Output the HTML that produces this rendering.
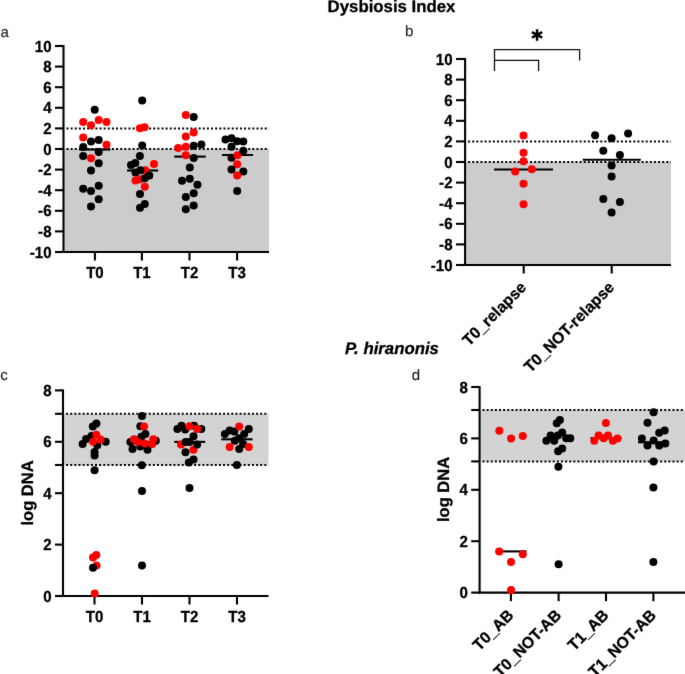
<!DOCTYPE html>
<html><head><meta charset="utf-8"><style>
html,body{margin:0;padding:0;background:#fff;}
body{width:685px;height:674px;overflow:hidden;}
svg{display:block;font-family:"Liberation Sans",sans-serif;text-rendering:geometricPrecision;}
</style></head><body>
<svg width="685" height="674" viewBox="0 0 685 674">
<defs><filter id="soft" x="0" y="0" width="685" height="674" filterUnits="userSpaceOnUse" color-interpolation-filters="sRGB"><feConvolveMatrix order="3" kernelMatrix="0.00490 0.06020 0.00490 0.06020 0.73960 0.06020 0.00490 0.06020 0.00490" edgeMode="duplicate" preserveAlpha="true"/></filter></defs>
<g filter="url(#soft)">
<rect width="685" height="674" fill="#fff"/>
<rect x="64.5" y="149.0" width="204.5" height="103.0" fill="#cccccc"/>
<line x1="64.5" y1="128.4" x2="269" y2="128.4" stroke="#000" stroke-width="2" stroke-dasharray="2 2.13" stroke-dashoffset="-2.0"/>
<line x1="64.5" y1="149.0" x2="269" y2="149.0" stroke="#000" stroke-width="2" stroke-dasharray="2 2.13" stroke-dashoffset="-2.0"/>
<line x1="63.5" y1="45.0" x2="63.5" y2="253.0" stroke="#000" stroke-width="2.1" />
<line x1="62.5" y1="252.0" x2="269" y2="252.0" stroke="#000" stroke-width="2.1" />
<line x1="55" y1="252.0" x2="63.5" y2="252.0" stroke="#000" stroke-width="2.1" />
<text transform="translate(51.5 257.5) scale(0.94 1)" font-size="16" font-weight="bold" font-style="normal" text-anchor="end" fill="#000" stroke="#000" stroke-width="0.3" stroke-linejoin="round">-10</text>
<line x1="55" y1="231.4" x2="63.5" y2="231.4" stroke="#000" stroke-width="2.1" />
<text transform="translate(51.5 236.9) scale(0.94 1)" font-size="16" font-weight="bold" font-style="normal" text-anchor="end" fill="#000" stroke="#000" stroke-width="0.3" stroke-linejoin="round">-8</text>
<line x1="55" y1="210.8" x2="63.5" y2="210.8" stroke="#000" stroke-width="2.1" />
<text transform="translate(51.5 216.3) scale(0.94 1)" font-size="16" font-weight="bold" font-style="normal" text-anchor="end" fill="#000" stroke="#000" stroke-width="0.3" stroke-linejoin="round">-6</text>
<line x1="55" y1="190.2" x2="63.5" y2="190.2" stroke="#000" stroke-width="2.1" />
<text transform="translate(51.5 195.7) scale(0.94 1)" font-size="16" font-weight="bold" font-style="normal" text-anchor="end" fill="#000" stroke="#000" stroke-width="0.3" stroke-linejoin="round">-4</text>
<line x1="55" y1="169.6" x2="63.5" y2="169.6" stroke="#000" stroke-width="2.1" />
<text transform="translate(51.5 175.1) scale(0.94 1)" font-size="16" font-weight="bold" font-style="normal" text-anchor="end" fill="#000" stroke="#000" stroke-width="0.3" stroke-linejoin="round">-2</text>
<line x1="55" y1="149.0" x2="63.5" y2="149.0" stroke="#000" stroke-width="2.1" />
<text transform="translate(51.5 154.5) scale(0.94 1)" font-size="16" font-weight="bold" font-style="normal" text-anchor="end" fill="#000" stroke="#000" stroke-width="0.3" stroke-linejoin="round">0</text>
<line x1="55" y1="128.4" x2="63.5" y2="128.4" stroke="#000" stroke-width="2.1" />
<text transform="translate(51.5 133.9) scale(0.94 1)" font-size="16" font-weight="bold" font-style="normal" text-anchor="end" fill="#000" stroke="#000" stroke-width="0.3" stroke-linejoin="round">2</text>
<line x1="55" y1="107.8" x2="63.5" y2="107.8" stroke="#000" stroke-width="2.1" />
<text transform="translate(51.5 113.3) scale(0.94 1)" font-size="16" font-weight="bold" font-style="normal" text-anchor="end" fill="#000" stroke="#000" stroke-width="0.3" stroke-linejoin="round">4</text>
<line x1="55" y1="87.19999999999999" x2="63.5" y2="87.19999999999999" stroke="#000" stroke-width="2.1" />
<text transform="translate(51.5 92.69999999999999) scale(0.94 1)" font-size="16" font-weight="bold" font-style="normal" text-anchor="end" fill="#000" stroke="#000" stroke-width="0.3" stroke-linejoin="round">6</text>
<line x1="55" y1="66.6" x2="63.5" y2="66.6" stroke="#000" stroke-width="2.1" />
<text transform="translate(51.5 72.1) scale(0.94 1)" font-size="16" font-weight="bold" font-style="normal" text-anchor="end" fill="#000" stroke="#000" stroke-width="0.3" stroke-linejoin="round">8</text>
<line x1="55" y1="46.0" x2="63.5" y2="46.0" stroke="#000" stroke-width="2.1" />
<text transform="translate(51.5 51.5) scale(0.94 1)" font-size="16" font-weight="bold" font-style="normal" text-anchor="end" fill="#000" stroke="#000" stroke-width="0.3" stroke-linejoin="round">10</text>
<line x1="94.9" y1="252.0" x2="94.9" y2="260.5" stroke="#000" stroke-width="2.1" />
<text transform="translate(94.9 277.6) scale(0.94 1)" font-size="16" font-weight="bold" font-style="normal" text-anchor="middle" fill="#000" stroke="#000" stroke-width="0.3" stroke-linejoin="round">T0</text>
<line x1="141.9" y1="252.0" x2="141.9" y2="260.5" stroke="#000" stroke-width="2.1" />
<text transform="translate(141.9 277.6) scale(0.94 1)" font-size="16" font-weight="bold" font-style="normal" text-anchor="middle" fill="#000" stroke="#000" stroke-width="0.3" stroke-linejoin="round">T1</text>
<line x1="189.5" y1="252.0" x2="189.5" y2="260.5" stroke="#000" stroke-width="2.1" />
<text transform="translate(189.5 277.6) scale(0.94 1)" font-size="16" font-weight="bold" font-style="normal" text-anchor="middle" fill="#000" stroke="#000" stroke-width="0.3" stroke-linejoin="round">T2</text>
<line x1="237.1" y1="252.0" x2="237.1" y2="260.5" stroke="#000" stroke-width="2.1" />
<text transform="translate(237.1 277.6) scale(0.94 1)" font-size="16" font-weight="bold" font-style="normal" text-anchor="middle" fill="#000" stroke="#000" stroke-width="0.3" stroke-linejoin="round">T3</text>
<line x1="79.3" y1="149.5" x2="110.5" y2="149.5" stroke="#000" stroke-width="2.1" />
<line x1="127" y1="170.5" x2="158.2" y2="170.5" stroke="#000" stroke-width="2.1" />
<line x1="174.2" y1="156.6" x2="205.8" y2="156.6" stroke="#000" stroke-width="2.1" />
<line x1="221.9" y1="155" x2="253.1" y2="155" stroke="#000" stroke-width="2.1" />
<circle cx="94.7" cy="109.7" r="4.0" fill="#000000"/>
<circle cx="83.2" cy="122" r="4.0" fill="#ff0000"/>
<circle cx="91" cy="125.3" r="4.0" fill="#ff0000"/>
<circle cx="98.7" cy="119.9" r="4.0" fill="#ff0000"/>
<circle cx="106.5" cy="122" r="4.0" fill="#ff0000"/>
<circle cx="83.2" cy="137.5" r="4.0" fill="#ff0000"/>
<circle cx="91" cy="141.5" r="4.0" fill="#000000"/>
<circle cx="98.7" cy="140" r="4.0" fill="#000000"/>
<circle cx="106.5" cy="144.8" r="4.0" fill="#ff0000"/>
<circle cx="83.2" cy="147" r="4.0" fill="#000000"/>
<circle cx="98.7" cy="152" r="4.0" fill="#000000"/>
<circle cx="83.2" cy="156" r="4.0" fill="#000000"/>
<circle cx="91" cy="158.2" r="4.0" fill="#ff0000"/>
<circle cx="98.7" cy="163.3" r="4.0" fill="#000000"/>
<circle cx="91" cy="170.4" r="4.0" fill="#000000"/>
<circle cx="98.7" cy="185.8" r="4.0" fill="#000000"/>
<circle cx="83.2" cy="188.8" r="4.0" fill="#000000"/>
<circle cx="91" cy="190.9" r="4.0" fill="#000000"/>
<circle cx="98.7" cy="199.3" r="4.0" fill="#000000"/>
<circle cx="91" cy="206.5" r="4.0" fill="#000000"/>
<circle cx="142.2" cy="100.5" r="4.0" fill="#000000"/>
<circle cx="139.9" cy="128.3" r="4.0" fill="#ff0000"/>
<circle cx="144.6" cy="127.2" r="4.0" fill="#ff0000"/>
<circle cx="142.2" cy="145.6" r="4.0" fill="#000000"/>
<circle cx="139.9" cy="156" r="4.0" fill="#000000"/>
<circle cx="131" cy="164.9" r="4.0" fill="#000000"/>
<circle cx="135.3" cy="163" r="4.0" fill="#000000"/>
<circle cx="154" cy="164" r="4.0" fill="#ff0000"/>
<circle cx="145.3" cy="170.3" r="4.0" fill="#ff0000"/>
<circle cx="140.4" cy="170.3" r="4.0" fill="#000000"/>
<circle cx="135.5" cy="172.5" r="4.0" fill="#000000"/>
<circle cx="135.5" cy="180.5" r="4.0" fill="#ff0000"/>
<circle cx="140" cy="179.2" r="4.0" fill="#ff0000"/>
<circle cx="149.3" cy="175.6" r="4.0" fill="#000000"/>
<circle cx="144.8" cy="178.3" r="4.0" fill="#000000"/>
<circle cx="144.8" cy="186.7" r="4.0" fill="#ff0000"/>
<circle cx="140" cy="193.9" r="4.0" fill="#000000"/>
<circle cx="144.8" cy="204.1" r="4.0" fill="#000000"/>
<circle cx="140" cy="207.7" r="4.0" fill="#000000"/>
<circle cx="185.8" cy="115" r="4.0" fill="#ff0000"/>
<circle cx="193.7" cy="116.9" r="4.0" fill="#000000"/>
<circle cx="193.7" cy="132.5" r="4.0" fill="#ff0000"/>
<circle cx="185.8" cy="136.5" r="4.0" fill="#ff0000"/>
<circle cx="178.1" cy="147.9" r="4.0" fill="#ff0000"/>
<circle cx="185.8" cy="146.7" r="4.0" fill="#ff0000"/>
<circle cx="193.7" cy="145.8" r="4.0" fill="#000000"/>
<circle cx="201.4" cy="144.5" r="4.0" fill="#000000"/>
<circle cx="185.8" cy="155.2" r="4.0" fill="#ff0000"/>
<circle cx="193.7" cy="158" r="4.0" fill="#000000"/>
<circle cx="189.8" cy="167.6" r="4.0" fill="#000000"/>
<circle cx="182" cy="180.7" r="4.0" fill="#000000"/>
<circle cx="189.8" cy="178.7" r="4.0" fill="#000000"/>
<circle cx="197.4" cy="184.7" r="4.0" fill="#000000"/>
<circle cx="193.7" cy="193.2" r="4.0" fill="#000000"/>
<circle cx="185.8" cy="197" r="4.0" fill="#000000"/>
<circle cx="193.7" cy="205.4" r="4.0" fill="#000000"/>
<circle cx="185.8" cy="209.3" r="4.0" fill="#000000"/>
<circle cx="225.5" cy="139.6" r="4.0" fill="#000000"/>
<circle cx="231.5" cy="138.2" r="4.0" fill="#000000"/>
<circle cx="237.2" cy="141.2" r="4.0" fill="#000000"/>
<circle cx="243.3" cy="141.4" r="4.0" fill="#000000"/>
<circle cx="231.5" cy="146.7" r="4.0" fill="#000000"/>
<circle cx="231.5" cy="157.8" r="4.0" fill="#000000"/>
<circle cx="237.5" cy="155.2" r="4.0" fill="#ff0000"/>
<circle cx="243.3" cy="150.7" r="4.0" fill="#000000"/>
<circle cx="237.2" cy="164.2" r="4.0" fill="#ff0000"/>
<circle cx="231.5" cy="169.4" r="4.0" fill="#000000"/>
<circle cx="243.3" cy="171.5" r="4.0" fill="#000000"/>
<circle cx="237.2" cy="175.6" r="4.0" fill="#ff0000"/>
<circle cx="237.2" cy="191" r="4.0" fill="#000000"/>
<rect x="466.1" y="162.0" width="204.89999999999998" height="103.0" fill="#cccccc"/>
<line x1="466.1" y1="141.4" x2="671" y2="141.4" stroke="#000" stroke-width="2" stroke-dasharray="2 2.13" stroke-dashoffset="-2.0"/>
<line x1="466.1" y1="162.0" x2="671" y2="162.0" stroke="#000" stroke-width="2" stroke-dasharray="2 2.13" stroke-dashoffset="-2.0"/>
<line x1="465.1" y1="58.0" x2="465.1" y2="266.0" stroke="#000" stroke-width="2.1" />
<line x1="464.1" y1="265.0" x2="671" y2="265.0" stroke="#000" stroke-width="2.1" />
<line x1="456" y1="265.0" x2="465.1" y2="265.0" stroke="#000" stroke-width="2.1" />
<text transform="translate(452.5 270.5) scale(0.94 1)" font-size="16" font-weight="bold" font-style="normal" text-anchor="end" fill="#000" stroke="#000" stroke-width="0.3" stroke-linejoin="round">-10</text>
<line x1="456" y1="244.4" x2="465.1" y2="244.4" stroke="#000" stroke-width="2.1" />
<text transform="translate(452.5 249.9) scale(0.94 1)" font-size="16" font-weight="bold" font-style="normal" text-anchor="end" fill="#000" stroke="#000" stroke-width="0.3" stroke-linejoin="round">-8</text>
<line x1="456" y1="223.8" x2="465.1" y2="223.8" stroke="#000" stroke-width="2.1" />
<text transform="translate(452.5 229.3) scale(0.94 1)" font-size="16" font-weight="bold" font-style="normal" text-anchor="end" fill="#000" stroke="#000" stroke-width="0.3" stroke-linejoin="round">-6</text>
<line x1="456" y1="203.2" x2="465.1" y2="203.2" stroke="#000" stroke-width="2.1" />
<text transform="translate(452.5 208.7) scale(0.94 1)" font-size="16" font-weight="bold" font-style="normal" text-anchor="end" fill="#000" stroke="#000" stroke-width="0.3" stroke-linejoin="round">-4</text>
<line x1="456" y1="182.6" x2="465.1" y2="182.6" stroke="#000" stroke-width="2.1" />
<text transform="translate(452.5 188.1) scale(0.94 1)" font-size="16" font-weight="bold" font-style="normal" text-anchor="end" fill="#000" stroke="#000" stroke-width="0.3" stroke-linejoin="round">-2</text>
<line x1="456" y1="162.0" x2="465.1" y2="162.0" stroke="#000" stroke-width="2.1" />
<text transform="translate(452.5 167.5) scale(0.94 1)" font-size="16" font-weight="bold" font-style="normal" text-anchor="end" fill="#000" stroke="#000" stroke-width="0.3" stroke-linejoin="round">0</text>
<line x1="456" y1="141.4" x2="465.1" y2="141.4" stroke="#000" stroke-width="2.1" />
<text transform="translate(452.5 146.9) scale(0.94 1)" font-size="16" font-weight="bold" font-style="normal" text-anchor="end" fill="#000" stroke="#000" stroke-width="0.3" stroke-linejoin="round">2</text>
<line x1="456" y1="120.8" x2="465.1" y2="120.8" stroke="#000" stroke-width="2.1" />
<text transform="translate(452.5 126.3) scale(0.94 1)" font-size="16" font-weight="bold" font-style="normal" text-anchor="end" fill="#000" stroke="#000" stroke-width="0.3" stroke-linejoin="round">4</text>
<line x1="456" y1="100.19999999999999" x2="465.1" y2="100.19999999999999" stroke="#000" stroke-width="2.1" />
<text transform="translate(452.5 105.69999999999999) scale(0.94 1)" font-size="16" font-weight="bold" font-style="normal" text-anchor="end" fill="#000" stroke="#000" stroke-width="0.3" stroke-linejoin="round">6</text>
<line x1="456" y1="79.6" x2="465.1" y2="79.6" stroke="#000" stroke-width="2.1" />
<text transform="translate(452.5 85.1) scale(0.94 1)" font-size="16" font-weight="bold" font-style="normal" text-anchor="end" fill="#000" stroke="#000" stroke-width="0.3" stroke-linejoin="round">8</text>
<line x1="456" y1="59.0" x2="465.1" y2="59.0" stroke="#000" stroke-width="2.1" />
<text transform="translate(452.5 64.5) scale(0.94 1)" font-size="16" font-weight="bold" font-style="normal" text-anchor="end" fill="#000" stroke="#000" stroke-width="0.3" stroke-linejoin="round">10</text>
<line x1="523.7" y1="265.0" x2="523.7" y2="273.5" stroke="#000" stroke-width="2.1" />
<text transform="translate(527.3000000000001 288.4) rotate(-45) scale(0.985 1)" font-size="16" font-weight="bold" font-style="normal" text-anchor="end" fill="#000" stroke="#000" stroke-width="0.3" stroke-linejoin="round">T0_relapse</text>
<line x1="611.7" y1="265.0" x2="611.7" y2="273.5" stroke="#000" stroke-width="2.1" />
<text transform="translate(615.3000000000001 288.4) rotate(-45) scale(0.985 1)" font-size="16" font-weight="bold" font-style="normal" text-anchor="end" fill="#000" stroke="#000" stroke-width="0.3" stroke-linejoin="round">T0_NOT-relapse</text>
<line x1="494" y1="169.5" x2="553" y2="169.5" stroke="#000" stroke-width="2.1" />
<line x1="582.7" y1="159.7" x2="640.8" y2="159.7" stroke="#000" stroke-width="2.1" />
<circle cx="523.5" cy="135.4" r="4.0" fill="#ff0000"/>
<circle cx="523.5" cy="152.8" r="4.0" fill="#ff0000"/>
<circle cx="523.5" cy="161.3" r="4.0" fill="#ff0000"/>
<circle cx="515.2" cy="171.5" r="4.0" fill="#ff0000"/>
<circle cx="531.8" cy="169.2" r="4.0" fill="#ff0000"/>
<circle cx="523.5" cy="183.8" r="4.0" fill="#ff0000"/>
<circle cx="523.5" cy="204.3" r="4.0" fill="#ff0000"/>
<circle cx="595.1" cy="135.3" r="4.0" fill="#000000"/>
<circle cx="611.6" cy="138.2" r="4.0" fill="#000000"/>
<circle cx="628.1" cy="133.4" r="4.0" fill="#000000"/>
<circle cx="603.3" cy="150.7" r="4.0" fill="#000000"/>
<circle cx="619.9" cy="154.9" r="4.0" fill="#000000"/>
<circle cx="611.6" cy="165.4" r="4.0" fill="#000000"/>
<circle cx="611.6" cy="176.4" r="4.0" fill="#000000"/>
<circle cx="603.3" cy="199" r="4.0" fill="#000000"/>
<circle cx="619.9" cy="202" r="4.0" fill="#000000"/>
<circle cx="611.6" cy="212.5" r="4.0" fill="#000000"/>
<path d="M494.5 71 V49.7 H579.6 V60.5 M494.5 60.3 H538.6 V71" fill="none" stroke="#111" stroke-width="1.3"/>
<path d="M537.05 29.2 V40.7 M531.9 32.2 L542.2 37.7 M531.9 37.7 L542.2 32.2" stroke="#000" stroke-width="2.5" fill="none"/>
<rect x="64.0" y="413.8" width="204.5" height="51.19999999999999" fill="#d3d3d3"/>
<line x1="64.0" y1="413.8" x2="268.5" y2="413.8" stroke="#000" stroke-width="2" stroke-dasharray="2 2.13" stroke-dashoffset="-2.1"/>
<line x1="64.0" y1="465" x2="268.5" y2="465" stroke="#000" stroke-width="2" stroke-dasharray="2 2.13" stroke-dashoffset="-2.1"/>
<line x1="63.0" y1="389.4" x2="63.0" y2="597.0" stroke="#000" stroke-width="2.1" />
<line x1="62.0" y1="596.0" x2="268.5" y2="596.0" stroke="#000" stroke-width="2.1" />
<line x1="55" y1="390.4" x2="63.0" y2="390.4" stroke="#000" stroke-width="2.1" />
<text transform="translate(51.5 395.9) scale(0.94 1)" font-size="16" font-weight="bold" font-style="normal" text-anchor="end" fill="#000" stroke="#000" stroke-width="0.3" stroke-linejoin="round">8</text>
<line x1="55" y1="441.8" x2="63.0" y2="441.8" stroke="#000" stroke-width="2.1" />
<text transform="translate(51.5 447.3) scale(0.94 1)" font-size="16" font-weight="bold" font-style="normal" text-anchor="end" fill="#000" stroke="#000" stroke-width="0.3" stroke-linejoin="round">6</text>
<line x1="55" y1="493.2" x2="63.0" y2="493.2" stroke="#000" stroke-width="2.1" />
<text transform="translate(51.5 498.7) scale(0.94 1)" font-size="16" font-weight="bold" font-style="normal" text-anchor="end" fill="#000" stroke="#000" stroke-width="0.3" stroke-linejoin="round">4</text>
<line x1="55" y1="544.6" x2="63.0" y2="544.6" stroke="#000" stroke-width="2.1" />
<text transform="translate(51.5 550.1) scale(0.94 1)" font-size="16" font-weight="bold" font-style="normal" text-anchor="end" fill="#000" stroke="#000" stroke-width="0.3" stroke-linejoin="round">2</text>
<line x1="55" y1="596.0" x2="63.0" y2="596.0" stroke="#000" stroke-width="2.1" />
<text transform="translate(51.5 601.5) scale(0.94 1)" font-size="16" font-weight="bold" font-style="normal" text-anchor="end" fill="#000" stroke="#000" stroke-width="0.3" stroke-linejoin="round">0</text>
<line x1="55" y1="413.8" x2="63.0" y2="413.8" stroke="#000" stroke-width="2.1" />
<line x1="55" y1="465" x2="63.0" y2="465" stroke="#000" stroke-width="2.1" />
<line x1="94.5" y1="596.0" x2="94.5" y2="604.5" stroke="#000" stroke-width="2.1" />
<text transform="translate(94.5 622.3) scale(0.94 1)" font-size="16" font-weight="bold" font-style="normal" text-anchor="middle" fill="#000" stroke="#000" stroke-width="0.3" stroke-linejoin="round">T0</text>
<line x1="142" y1="596.0" x2="142" y2="604.5" stroke="#000" stroke-width="2.1" />
<text transform="translate(142 622.3) scale(0.94 1)" font-size="16" font-weight="bold" font-style="normal" text-anchor="middle" fill="#000" stroke="#000" stroke-width="0.3" stroke-linejoin="round">T1</text>
<line x1="189.5" y1="596.0" x2="189.5" y2="604.5" stroke="#000" stroke-width="2.1" />
<text transform="translate(189.5 622.3) scale(0.94 1)" font-size="16" font-weight="bold" font-style="normal" text-anchor="middle" fill="#000" stroke="#000" stroke-width="0.3" stroke-linejoin="round">T2</text>
<line x1="237" y1="596.0" x2="237" y2="604.5" stroke="#000" stroke-width="2.1" />
<text transform="translate(237 622.3) scale(0.94 1)" font-size="16" font-weight="bold" font-style="normal" text-anchor="middle" fill="#000" stroke="#000" stroke-width="0.3" stroke-linejoin="round">T3</text>
<text transform="translate(32.7 493) rotate(-90)" font-size="16.5" font-weight="bold" font-style="normal" text-anchor="middle" fill="#000" stroke="#000" stroke-width="0.3" stroke-linejoin="round">log DNA</text>
<line x1="127" y1="442" x2="158" y2="442" stroke="#000" stroke-width="2.1" />
<line x1="174.3" y1="441.9" x2="205.2" y2="441.9" stroke="#000" stroke-width="2.1" />
<line x1="221.3" y1="439.3" x2="252.5" y2="439.3" stroke="#000" stroke-width="2.1" />
<circle cx="96.4" cy="423.5" r="4.0" fill="#000000"/>
<circle cx="92.8" cy="426.6" r="4.0" fill="#000000"/>
<circle cx="91.5" cy="435.9" r="4.0" fill="#000000"/>
<circle cx="86.1" cy="439" r="4.0" fill="#000000"/>
<circle cx="82.6" cy="443.9" r="4.0" fill="#000000"/>
<circle cx="105.7" cy="441.7" r="4.0" fill="#000000"/>
<circle cx="97.3" cy="445.3" r="4.0" fill="#000000"/>
<circle cx="94.6" cy="452" r="4.0" fill="#000000"/>
<circle cx="94.6" cy="455.5" r="4.0" fill="#000000"/>
<circle cx="94.6" cy="470.2" r="4.0" fill="#000000"/>
<circle cx="96.3" cy="434.7" r="4.0" fill="#ff0000"/>
<circle cx="100.5" cy="439.6" r="4.0" fill="#ff0000"/>
<circle cx="93.0" cy="441.8" r="4.0" fill="#ff0000"/>
<circle cx="96.3" cy="555" r="4.0" fill="#ff0000"/>
<circle cx="93" cy="557.4" r="4.0" fill="#ff0000"/>
<circle cx="96.5" cy="565.6" r="4.0" fill="#ff0000"/>
<circle cx="93" cy="567.8" r="4.0" fill="#000000"/>
<circle cx="94.7" cy="593.5" r="4.0" fill="#ff0000"/>
<circle cx="142" cy="415.9" r="4.0" fill="#000000"/>
<circle cx="140.3" cy="426.3" r="4.0" fill="#000000"/>
<circle cx="144.1" cy="426.6" r="4.0" fill="#ff0000"/>
<circle cx="145.4" cy="434.1" r="4.0" fill="#000000"/>
<circle cx="141.3" cy="436.7" r="4.0" fill="#000000"/>
<circle cx="130.4" cy="441.9" r="4.0" fill="#000000"/>
<circle cx="155.8" cy="440.8" r="4.0" fill="#000000"/>
<circle cx="132.5" cy="449.1" r="4.0" fill="#000000"/>
<circle cx="140.3" cy="446.5" r="4.0" fill="#000000"/>
<circle cx="147.5" cy="449.7" r="4.0" fill="#000000"/>
<circle cx="134" cy="439.3" r="4.0" fill="#ff0000"/>
<circle cx="137.7" cy="441.9" r="4.0" fill="#ff0000"/>
<circle cx="144.9" cy="443.4" r="4.0" fill="#ff0000"/>
<circle cx="153.2" cy="439.3" r="4.0" fill="#ff0000"/>
<circle cx="152.2" cy="444" r="4.0" fill="#ff0000"/>
<circle cx="141.8" cy="465.2" r="4.0" fill="#000000"/>
<circle cx="142" cy="490.9" r="4.0" fill="#000000"/>
<circle cx="142" cy="565.5" r="4.0" fill="#000000"/>
<circle cx="177.4" cy="428.9" r="4.0" fill="#000000"/>
<circle cx="181.5" cy="425.8" r="4.0" fill="#000000"/>
<circle cx="185.2" cy="429.4" r="4.0" fill="#000000"/>
<circle cx="194" cy="425.8" r="4.0" fill="#000000"/>
<circle cx="201.3" cy="428.9" r="4.0" fill="#000000"/>
<circle cx="189.3" cy="426.3" r="4.0" fill="#ff0000"/>
<circle cx="197.1" cy="428.9" r="4.0" fill="#ff0000"/>
<circle cx="193.5" cy="436.2" r="4.0" fill="#000000"/>
<circle cx="181" cy="444.5" r="4.0" fill="#ff0000"/>
<circle cx="193.5" cy="449.7" r="4.0" fill="#ff0000"/>
<circle cx="185.7" cy="441.9" r="4.0" fill="#000000"/>
<circle cx="189.3" cy="441.9" r="4.0" fill="#000000"/>
<circle cx="197.1" cy="444.5" r="4.0" fill="#000000"/>
<circle cx="185.5" cy="452.3" r="4.0" fill="#000000"/>
<circle cx="193.5" cy="459.5" r="4.0" fill="#000000"/>
<circle cx="188.8" cy="462.6" r="4.0" fill="#000000"/>
<circle cx="189.5" cy="488" r="4.0" fill="#000000"/>
<circle cx="224.9" cy="434.1" r="4.0" fill="#000000"/>
<circle cx="229.6" cy="430.4" r="4.0" fill="#000000"/>
<circle cx="234.3" cy="431.5" r="4.0" fill="#000000"/>
<circle cx="248.8" cy="428.9" r="4.0" fill="#000000"/>
<circle cx="244.2" cy="434.1" r="4.0" fill="#000000"/>
<circle cx="239" cy="438.2" r="4.0" fill="#000000"/>
<circle cx="234.8" cy="440.8" r="4.0" fill="#000000"/>
<circle cx="243.1" cy="443.9" r="4.0" fill="#000000"/>
<circle cx="239.2" cy="426.6" r="4.0" fill="#ff0000"/>
<circle cx="229.6" cy="447.1" r="4.0" fill="#ff0000"/>
<circle cx="248.8" cy="447.1" r="4.0" fill="#ff0000"/>
<circle cx="239.2" cy="449.1" r="4.0" fill="#000000"/>
<circle cx="236.9" cy="465" r="4.0" fill="#000000"/>
<rect x="480.6" y="410" width="204.39999999999998" height="51.39999999999998" fill="#d3d3d3"/>
<line x1="480.6" y1="410" x2="685" y2="410" stroke="#000" stroke-width="2" stroke-dasharray="2 2.13" stroke-dashoffset="-1.9"/>
<line x1="480.6" y1="461.4" x2="685" y2="461.4" stroke="#000" stroke-width="2" stroke-dasharray="2 2.13" stroke-dashoffset="-1.9"/>
<line x1="479.6" y1="386.0" x2="479.6" y2="593.6" stroke="#000" stroke-width="2.1" />
<line x1="478.6" y1="592.6" x2="685" y2="592.6" stroke="#000" stroke-width="2.1" />
<line x1="471.2" y1="387.0" x2="479.6" y2="387.0" stroke="#000" stroke-width="2.1" />
<text transform="translate(467.8 392.5) scale(0.94 1)" font-size="16" font-weight="bold" font-style="normal" text-anchor="end" fill="#000" stroke="#000" stroke-width="0.3" stroke-linejoin="round">8</text>
<line x1="471.2" y1="438.40000000000003" x2="479.6" y2="438.40000000000003" stroke="#000" stroke-width="2.1" />
<text transform="translate(467.8 443.90000000000003) scale(0.94 1)" font-size="16" font-weight="bold" font-style="normal" text-anchor="end" fill="#000" stroke="#000" stroke-width="0.3" stroke-linejoin="round">6</text>
<line x1="471.2" y1="489.8" x2="479.6" y2="489.8" stroke="#000" stroke-width="2.1" />
<text transform="translate(467.8 495.3) scale(0.94 1)" font-size="16" font-weight="bold" font-style="normal" text-anchor="end" fill="#000" stroke="#000" stroke-width="0.3" stroke-linejoin="round">4</text>
<line x1="471.2" y1="541.2" x2="479.6" y2="541.2" stroke="#000" stroke-width="2.1" />
<text transform="translate(467.8 546.7) scale(0.94 1)" font-size="16" font-weight="bold" font-style="normal" text-anchor="end" fill="#000" stroke="#000" stroke-width="0.3" stroke-linejoin="round">2</text>
<line x1="471.2" y1="592.6" x2="479.6" y2="592.6" stroke="#000" stroke-width="2.1" />
<text transform="translate(467.8 598.1) scale(0.94 1)" font-size="16" font-weight="bold" font-style="normal" text-anchor="end" fill="#000" stroke="#000" stroke-width="0.3" stroke-linejoin="round">0</text>
<line x1="471.2" y1="410" x2="479.6" y2="410" stroke="#000" stroke-width="2.1" />
<line x1="471.2" y1="461.4" x2="479.6" y2="461.4" stroke="#000" stroke-width="2.1" />
<line x1="510.9" y1="592.6" x2="510.9" y2="601.2" stroke="#000" stroke-width="2.1" />
<text transform="translate(514.5 616.1) rotate(-45) scale(0.985 1)" font-size="16" font-weight="bold" font-style="normal" text-anchor="end" fill="#000" stroke="#000" stroke-width="0.3" stroke-linejoin="round">T0_AB</text>
<line x1="558.6" y1="592.6" x2="558.6" y2="601.2" stroke="#000" stroke-width="2.1" />
<text transform="translate(562.2 616.1) rotate(-45) scale(0.985 1)" font-size="16" font-weight="bold" font-style="normal" text-anchor="end" fill="#000" stroke="#000" stroke-width="0.3" stroke-linejoin="round">T0_NOT-AB</text>
<line x1="606" y1="592.6" x2="606" y2="601.2" stroke="#000" stroke-width="2.1" />
<text transform="translate(609.6 616.1) rotate(-45) scale(0.985 1)" font-size="16" font-weight="bold" font-style="normal" text-anchor="end" fill="#000" stroke="#000" stroke-width="0.3" stroke-linejoin="round">T1_AB</text>
<line x1="653.4" y1="592.6" x2="653.4" y2="601.2" stroke="#000" stroke-width="2.1" />
<text transform="translate(657.0 616.1) rotate(-45) scale(0.985 1)" font-size="16" font-weight="bold" font-style="normal" text-anchor="end" fill="#000" stroke="#000" stroke-width="0.3" stroke-linejoin="round">T1_NOT-AB</text>
<text transform="translate(449 489.5) rotate(-90)" font-size="16.5" font-weight="bold" font-style="normal" text-anchor="middle" fill="#000" stroke="#000" stroke-width="0.3" stroke-linejoin="round">log DNA</text>
<line x1="495.5" y1="551.4" x2="526.5" y2="551.4" stroke="#000" stroke-width="2.1" />
<line x1="590.5" y1="438.2" x2="621.5" y2="438.2" stroke="#000" stroke-width="2.1" />
<line x1="638" y1="442.3" x2="669" y2="442.3" stroke="#000" stroke-width="2.1" />
<circle cx="499.3" cy="430.7" r="4.0" fill="#ff0000"/>
<circle cx="511.1" cy="438.5" r="4.0" fill="#ff0000"/>
<circle cx="522.8" cy="435.9" r="4.0" fill="#ff0000"/>
<circle cx="499.2" cy="551.4" r="4.0" fill="#ff0000"/>
<circle cx="522.8" cy="554.2" r="4.0" fill="#ff0000"/>
<circle cx="511" cy="562.1" r="4.0" fill="#ff0000"/>
<circle cx="511" cy="589.9" r="4.0" fill="#ff0000"/>
<circle cx="559.9" cy="420.1" r="4.0" fill="#000000"/>
<circle cx="556.8" cy="423.2" r="4.0" fill="#000000"/>
<circle cx="546.4" cy="440.8" r="4.0" fill="#000000"/>
<circle cx="550.6" cy="435.6" r="4.0" fill="#000000"/>
<circle cx="554.2" cy="440.8" r="4.0" fill="#000000"/>
<circle cx="557.8" cy="435.6" r="4.0" fill="#000000"/>
<circle cx="562.2" cy="432.5" r="4.0" fill="#000000"/>
<circle cx="566.2" cy="438.2" r="4.0" fill="#000000"/>
<circle cx="570.3" cy="438.2" r="4.0" fill="#000000"/>
<circle cx="562.2" cy="448.6" r="4.0" fill="#000000"/>
<circle cx="558.1" cy="451.2" r="4.0" fill="#000000"/>
<circle cx="558.4" cy="466.8" r="4.0" fill="#000000"/>
<circle cx="558.6" cy="564.2" r="4.0" fill="#000000"/>
<circle cx="605.9" cy="422.9" r="4.0" fill="#ff0000"/>
<circle cx="598.6" cy="435.6" r="4.0" fill="#ff0000"/>
<circle cx="608" cy="435.6" r="4.0" fill="#ff0000"/>
<circle cx="594.3" cy="440.8" r="4.0" fill="#ff0000"/>
<circle cx="603.6" cy="438.2" r="4.0" fill="#ff0000"/>
<circle cx="612.9" cy="440.8" r="4.0" fill="#ff0000"/>
<circle cx="617.5" cy="438.4" r="4.0" fill="#ff0000"/>
<circle cx="653.6" cy="412.2" r="4.0" fill="#000000"/>
<circle cx="647.5" cy="422.8" r="4.0" fill="#000000"/>
<circle cx="664.7" cy="430.6" r="4.0" fill="#000000"/>
<circle cx="659.2" cy="432.8" r="4.0" fill="#000000"/>
<circle cx="641.9" cy="438.4" r="4.0" fill="#000000"/>
<circle cx="653.6" cy="440.6" r="4.0" fill="#000000"/>
<circle cx="647.5" cy="445.6" r="4.0" fill="#000000"/>
<circle cx="659.2" cy="445.6" r="4.0" fill="#000000"/>
<circle cx="665.3" cy="443.4" r="4.0" fill="#000000"/>
<circle cx="653.6" cy="461.4" r="4.0" fill="#000000"/>
<circle cx="653.4" cy="487.4" r="4.0" fill="#000000"/>
<circle cx="653.4" cy="562" r="4.0" fill="#000000"/>
<text transform="translate(391.5 11.8)" font-size="16.8" font-weight="bold" font-style="normal" text-anchor="middle" fill="#000" stroke="#000" stroke-width="0.3" stroke-linejoin="round">Dysbiosis Index</text>
<text transform="translate(392 354)" font-size="16.8" font-weight="bold" font-style="italic" text-anchor="middle" fill="#000" stroke="#000" stroke-width="0.3" stroke-linejoin="round">P. hiranonis</text>
<text transform="translate(0.4 36.9)" font-size="15" font-weight="normal" font-style="normal" text-anchor="start" fill="#222" stroke="#222" stroke-width="0.15" stroke-linejoin="round">a</text>
<text transform="translate(405 36)" font-size="15" font-weight="normal" font-style="normal" text-anchor="start" fill="#222" stroke="#222" stroke-width="0.15" stroke-linejoin="round">b</text>
<text transform="translate(0.3 380.1)" font-size="15" font-weight="normal" font-style="normal" text-anchor="start" fill="#222" stroke="#222" stroke-width="0.15" stroke-linejoin="round">c</text>
<text transform="translate(411.8 379.8)" font-size="15" font-weight="normal" font-style="normal" text-anchor="start" fill="#222" stroke="#222" stroke-width="0.15" stroke-linejoin="round">d</text>
</g>
</svg>
</body></html>
